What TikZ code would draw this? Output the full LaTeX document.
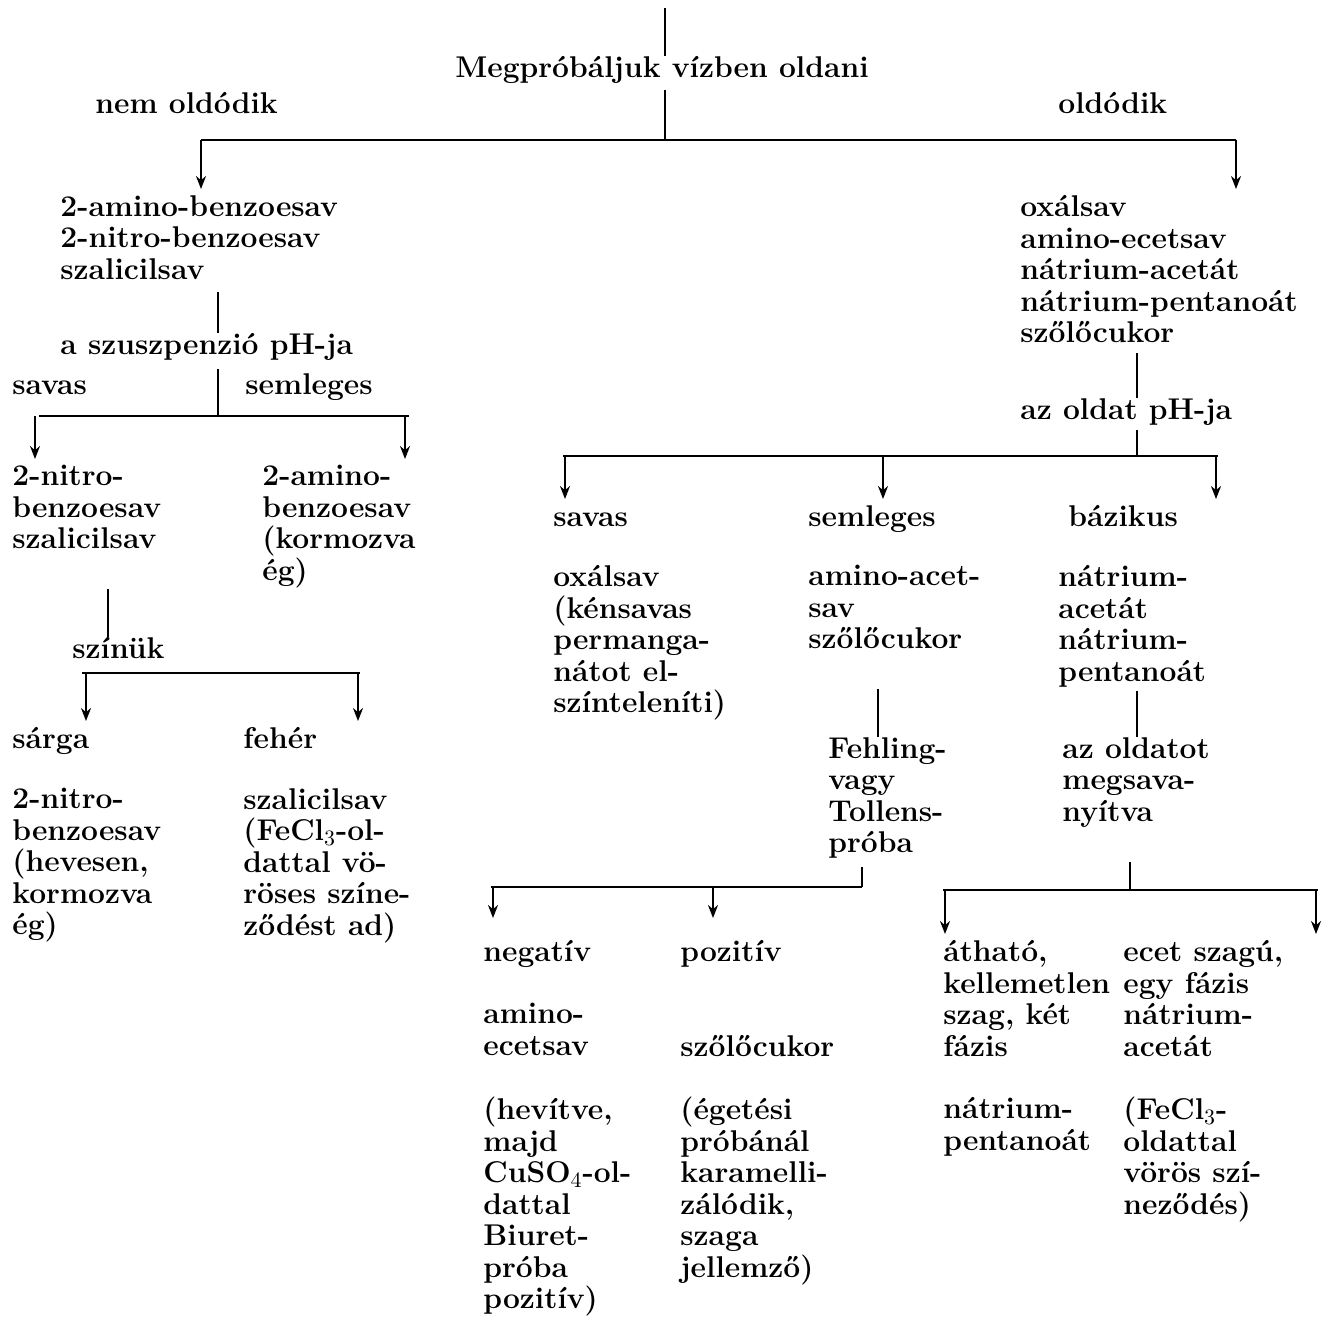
\documentclass[tikz,border=0pt]{standalone}
\usepackage{fontspec}
\usetikzlibrary{arrows.meta}
\begin{document}
\begin{tikzpicture}[x=0.5pt,y=-0.5pt,
    txt/.style={anchor=north west,align=left,inner sep=0pt,font=\fontsize{15}{15.75}\selectfont\bfseries,
      execute at begin node=\vphantom{l}},
    ln/.style={line width=1.3pt},
    arr/.style={line width=1pt,-{Stealth[length=6.5pt,width=5pt]}}]
  \useasboundingbox (0,0) rectangle (1332,1319);
  % texts
  \node[txt] (try) at (455,56) {Megpróbáljuk vízben oldani};
  \node[txt] (nemold) at (95,92) {nem oldódik};
  \node[txt] (old) at (1058,92) {oldódik};
  \node[txt] (ins) at (60,195) {2-amino-benzoesav\\2-nitro-benzoesav\\szalicilsav};
  \node[txt] (sol) at (1020,195) {oxálsav\\amino-ecetsav\\nátrium-acetát\\nátrium-pentanoát\\szőlőcukor};
  \node[txt] (susp) at (60,333) {a szuszpenzió pH-ja};
  \node[txt] (lsav) at (12,373) {savas};
  \node[txt] (lsem) at (245,373) {semleges};
  \node[txt] (nitsal) at (12,465) {2-nitro-\\benzoesav\\szalicilsav};
  \node[txt] (amino) at (262,465) {2-amino-\\benzoesav\\(kormozva\\ég)};
  \node[txt] (szin) at (72,637) {színük};
  \node[txt] (sarga) at (12,727) {sárga};
  \node[txt] (feher) at (243,727) {fehér};
  \node[txt] (nitro) at (12,788) {2-nitro-\\benzoesav\\(hevesen,\\kormozva\\ég)};
  \node[txt] (szal) at (243,788) {szalicilsav\\(FeCl$_3$-ol-\\dattal vö-\\röses színe-\\ződést ad)};
  \node[txt] (ph) at (1020,398) {az oldat pH-ja};
  \node[txt] (rsav) at (553,505) {savas};
  \node[txt] (rsem) at (808,505) {semleges};
  \node[txt] (rbaz) at (1068,505) {bázikus};
  \node[txt] (oxal) at (553,565) {oxálsav\\(kénsavas\\permanga-\\nátot el-\\színteleníti)};
  \node[txt] (neut) at (808,565) {amino-acet-\\sav\\szőlőcukor};
  \node[txt] (bas) at (1058,565) {nátrium-\\acetát\\nátrium-\\pentanoát};
  \node[txt] (fehl) at (828,737) {Fehling-\\vagy\\Tollens-\\próba};
  \node[txt] (acid) at (1062,737) {az oldatot\\megsava-\\nyítva};
  \node[txt] (neg) at (483,940) {negatív};
  \node[txt] (poz) at (680,940) {pozitív};
  \node[txt] (glyc) at (483,1003) {amino-\\ecetsav};
  \node[txt] (gluc) at (680,1035) {szőlőcukor};
  \node[txt] (biuret) at (483,1097) {(hevítve,\\majd\\CuSO$_4$-ol-\\dattal\\Biuret-\\próba\\pozitív)};
  \node[txt] (caram) at (680,1097) {(égetési\\próbánál\\karamelli-\\zálódik,\\szaga\\jellemző)};
  \node[txt] (smell) at (943,940) {átható,\\kellemetlen\\szag, két\\fázis};
  \node[txt] (vinegar) at (1123,940) {ecet szagú,\\egy fázis\\nátrium-\\acetát};
  \node[txt] (pent) at (943,1097) {nátrium-\\pentanoát};
  \node[txt] (fecl) at (1123,1097) {(FeCl$_3$-\\oldattal\\vörös szí-\\neződés)};
  % branch points
  \coordinate (t0) at (665,8);
  \coordinate (b1l) at (201,140); \coordinate (b1m) at (665,140); \coordinate (b1r) at (1236,140);
  \coordinate (b2l) at (35,416); \coordinate (b2) at (218,416); \coordinate (b2r) at (405,416);
  \coordinate (b3l) at (86,673); \coordinate (b3) at (108,673); \coordinate (b3r) at (358,673);
  \coordinate (b4l) at (565,456); \coordinate (b4m) at (883,456); \coordinate (b4) at (1137,456); \coordinate (b4r) at (1216,456);
  \coordinate (v5) at (878,700);
  \coordinate (b5l) at (493,887); \coordinate (b5m) at (713,887); \coordinate (b5) at (862,887);
  \coordinate (b6l) at (945,890); \coordinate (b6) at (1130,890); \coordinate (b6r) at (1316,890);
  % left half
  \draw[ln] (t0) -- (try.north -| t0);
  \draw[ln,shorten <=3pt] (try.south -| t0) -- (b1m);
  \draw[ln] (b1l) -- (b1r);
  \draw[arr,shorten >=3pt] (b1l) -- (b1l |- ins.north);
  \draw[arr,shorten >=3pt] (b1r) -- (b1r |- sol.north);
  \draw[ln,shorten <=6pt] (ins.south -| b2) -- (susp.north -| b2);
  \draw[ln,shorten <=4pt] (susp.south -| b2) -- (b2);
  \draw[ln] ([xshift=2pt]b2l) -- ([xshift=2pt]b2r);
  \draw[arr,shorten >=3pt] (b2l) -- (b2l |- nitsal.north);
  \draw[arr,shorten >=3pt] (b2r) -- (b2r |- amino.north);
  \draw[ln,shorten <=20pt] (nitsal.south -| b3) -- (szin.north -| b3);
  \draw[ln] ([xshift=-2pt]b3l) -- ([xshift=1pt]b3r);
  \draw[arr,shorten >=3pt] (b3l) -- (b3l |- sarga.north);
  \draw[arr,shorten >=3pt] (b3r) -- (b3r |- feher.north);
  % right half
  \draw[ln,shorten <=5pt] (sol.south -| b4) -- (ph.north -| b4);
  \draw[ln,shorten <=2pt] (ph.south -| b4) -- (b4);
  \draw[ln] ([xshift=-1pt]b4l) -- ([xshift=1pt]b4r);
  \draw[arr,shorten >=3pt] (b4l) -- (b4l |- rsav.north);
  \draw[arr,shorten >=3pt] (b4m) -- (b4m |- rsem.north);
  \draw[arr,shorten >=3pt] (b4r) -- (b4r |- rbaz.north);
  \draw[ln,shorten <=20pt] (neut.south -| v5) -- (fehl.north -| v5);
  \draw[ln,shorten <=2pt] (bas.south -| b4) -- (acid.north -| b4);
  \draw[ln,shorten <=4pt] (fehl.south -| b5) -- (b5);
  \draw[ln] ([xshift=-1pt]b5l) -- (b5);
  \draw[arr,shorten >=11pt] (b5l) -- (b5l |- neg.north);
  \draw[arr,shorten >=11pt] (b5m) -- (b5m |- poz.north);
  \draw[ln,shorten <=17pt] (acid.south -| b6) -- (b6);
  \draw[ln] ([xshift=-1pt]b6l) -- ([xshift=1pt]b6r);
  \draw[arr,shorten >=3pt] (b6l) -- (b6l |- smell.north);
  \draw[arr,shorten >=3pt] (b6r) -- (b6r |- vinegar.north);
\end{tikzpicture}
\end{document}
